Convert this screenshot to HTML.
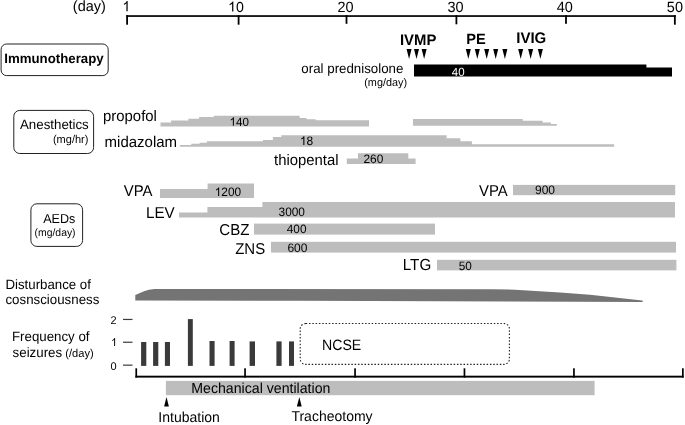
<!DOCTYPE html>
<html><head><meta charset="utf-8"><style>
html,body{margin:0;padding:0;background:#fff;}
svg{display:block;will-change:transform;}
text{font-family:"Liberation Sans",sans-serif;text-rendering:geometricPrecision;}
</style></head><body>
<svg width="685" height="425" viewBox="0 0 685 425">
<rect width="685" height="425" fill="#fff"/>
<rect x="126.2" y="15.2" width="549.6" height="1.7" fill="#000"/>
<rect x="126.20" y="15.2" width="1.8" height="9.5" fill="#000"/>
<rect x="237.70" y="15.2" width="1.8" height="9.5" fill="#000"/>
<rect x="345.60" y="15.2" width="1.8" height="8.6" fill="#000"/>
<rect x="455.50" y="15.2" width="1.8" height="9.1" fill="#000"/>
<rect x="565.10" y="15.2" width="1.8" height="8.6" fill="#000"/>
<rect x="673.95" y="15.2" width="1.8" height="9.5" fill="#000"/>
<text transform="translate(72.83,10.90) scale(1,1.025)" font-size="14.5" fill="#000">(day)</text>
<path d="M763 0h-180v1147q-65 -62 -170.5 -124t-189.5 -93v174q151 71 264 172t160 196h116v-1472z" transform="translate(122.37,11.30) scale(0.00693,-0.00693)" fill="#000"/>
<path d="M763 0h-180v1147q-65 -62 -170.5 -124t-189.5 -93v174q151 71 264 172t160 196h116v-1472z" transform="translate(228.07,11.60) scale(0.00693,-0.00693)" fill="#000"/><text transform="translate(235.97,11.60) scale(1,1.025)" font-size="14.2" fill="#000">0</text>
<text transform="translate(337.38,11.60) scale(1,1.025)" font-size="14.5" fill="#000">20</text>
<text transform="translate(447.42,11.60) scale(1,1.025)" font-size="14.5" fill="#000">30</text>
<text transform="translate(556.71,11.60) scale(1,1.025)" font-size="14.5" fill="#000">40</text>
<text transform="translate(666.82,11.60) scale(1,1.025)" font-size="14.5" fill="#000">50</text>
<rect x="1.1" y="44.0" width="107.1" height="31.6" rx="5.5" fill="none" stroke="#222" stroke-width="1"/>
<text transform="translate(4.27,63.00) scale(1,1.025)" font-size="13.25" font-weight="700" fill="#000">Immunotherapy</text>
<text transform="translate(399.96,44.70) scale(1,1.025)" font-size="14.9" font-weight="700" fill="#000">IVMP</text>
<text transform="translate(466.18,43.50) scale(1,1.025)" font-size="14.6" font-weight="700" fill="#000">PE</text>
<text transform="translate(516.25,43.10) scale(1,1.025)" font-size="15.0" font-weight="700" fill="#000">IVIG</text>
<polygon points="406.55,49.1 411.55,49.1 409.05,58.900000000000006" fill="#000"/>
<polygon points="414.00,49.1 419.00,49.1 416.50,58.900000000000006" fill="#000"/>
<polygon points="421.60,49.1 426.60,49.1 424.10,58.900000000000006" fill="#000"/>
<polygon points="465.80,49.1 470.80,49.1 468.30,58.900000000000006" fill="#000"/>
<polygon points="474.80,49.1 479.80,49.1 477.30,58.900000000000006" fill="#000"/>
<polygon points="484.20,49.1 489.20,49.1 486.70,58.900000000000006" fill="#000"/>
<polygon points="493.20,49.1 498.20,49.1 495.70,58.900000000000006" fill="#000"/>
<polygon points="502.40,49.1 507.40,49.1 504.90,58.900000000000006" fill="#000"/>
<polygon points="518.20,49.1 523.20,49.1 520.70,58.900000000000006" fill="#000"/>
<polygon points="528.10,49.1 533.10,49.1 530.60,58.900000000000006" fill="#000"/>
<polygon points="537.90,49.1 542.90,49.1 540.40,58.900000000000006" fill="#000"/>
<text transform="translate(301.37,72.70) scale(1,1.025)" font-size="13.3" fill="#000">oral prednisolone</text>
<text transform="translate(364.25,86.10) scale(1,1.025)" font-size="10.85" fill="#000">(mg/day)</text>
<polygon points="414,64.5 646.4,64.5 646.4,67.4 672,67.4 672,76.4 414,76.4" fill="#000"/>
<text transform="translate(451.77,75.60) scale(1,1.025)" font-size="11.5" fill="#fff">40</text>
<rect x="13.8" y="110.4" width="79.8" height="43.1" rx="6" fill="none" stroke="#222" stroke-width="1"/>
<text transform="translate(20.00,128.80) scale(1,1.025)" font-size="13.3" fill="#000">Anesthetics</text>
<text transform="translate(52.94,142.60) scale(1,1.025)" font-size="11" fill="#000">(mg/hr)</text>
<text transform="translate(103.06,121.40) scale(1,1.025)" font-size="14.9" fill="#000">propofol</text>
<text transform="translate(104.55,146.85) scale(1,1.025)" font-size="15.0" fill="#000">midazolam</text>
<text transform="translate(274.00,165.00) scale(1,1.025)" font-size="14.9" fill="#000">thiopental</text>
<polygon points="160.5,126.5 160.5,122.5 171.1,122.5 171.1,120.5 188.4,120.5 188.4,118.8 199.1,118.8 199.1,117.1 213.8,117.1 213.8,115.8 299.6,115.8 299.6,118.0 306.5,118.0 306.5,119.2 315.7,119.2 315.7,120.3 369.0,120.3 369.0,126.5" fill="#bdbdbd"/>
<polygon points="413.0,125.8 413.0,119.0 522.8,119.0 522.8,120.8 542.6,120.8 542.6,122.5 550.9,122.5 550.9,124.0 556.8,124.0 556.8,125.8" fill="#bdbdbd"/>
<polygon points="179.9,146.7 179.9,145.1 191.2,145.1 191.2,143.7 199.6,143.7 199.6,142.7 206.9,142.7 206.9,141.3 263.0,141.3 263.0,139.9 272.9,139.9 272.9,137.1 281.3,137.1 281.3,135.3 446.6,135.3 446.6,138.3 460.4,138.3 460.4,141.2 471.9,141.2 471.9,144.2 614.2,144.2 614.2,146.7" fill="#bdbdbd"/>
<polygon points="346.8,163.9 346.8,158.5 358.0,158.5 358.0,153.2 408.3,153.2 408.3,158.5 415.6,158.5 415.6,163.9" fill="#bdbdbd"/>
<path d="M763 0h-180v1147q-65 -62 -170.5 -124t-189.5 -93v174q151 71 264 172t160 196h116v-1472z" transform="translate(229.55,125.70) scale(0.00566,-0.00566)" fill="#000"/><text transform="translate(236.00,125.70) scale(1,1.025)" font-size="11.6" fill="#000">40</text>
<path d="M763 0h-180v1147q-65 -62 -170.5 -124t-189.5 -93v174q151 71 264 172t160 196h116v-1472z" transform="translate(299.91,145.00) scale(0.00586,-0.00586)" fill="#000"/><text transform="translate(306.58,145.00) scale(1,1.025)" font-size="12" fill="#000">8</text>
<text transform="translate(363.40,162.80) scale(1,1.025)" font-size="11.9" fill="#000">260</text>
<rect x="30.9" y="203.8" width="51.7" height="42.6" rx="6" fill="none" stroke="#222" stroke-width="1"/>
<text transform="translate(43.20,223.00) scale(1,1.025)" font-size="12.6" fill="#000">AEDs</text>
<text transform="translate(34.58,236.00) scale(1,1.025)" font-size="10.4" fill="#000">(mg/day)</text>
<polygon points="160.0,197.9 160.0,189.0 207.6,189.0 207.6,183.6 254.0,183.6 254.0,197.9" fill="#bdbdbd"/>
<polygon points="179.0,217.6 179.0,212.4 207.4,212.4 207.4,207.0 262.4,207.0 262.4,202.0 675.0,202.0 675.0,217.6" fill="#bdbdbd"/>
<rect x="254" y="223.6" width="181" height="11" fill="#bdbdbd"/>
<rect x="271" y="241.8" width="405" height="10.8" fill="#bdbdbd"/>
<rect x="513" y="184.9" width="162.2" height="10.3" fill="#bdbdbd"/>
<rect x="437" y="259.8" width="239.4" height="10.6" fill="#bdbdbd"/>
<text transform="translate(123.85,196.10) scale(1,1.05)" font-size="14.9" fill="#000">VPA</text>
<text transform="translate(145.98,217.90) scale(1,1.04)" font-size="15.2" fill="#000">LEV</text>
<text transform="translate(219.25,234.70) scale(1,1.05)" font-size="15.1" fill="#000">CBZ</text>
<text transform="translate(235.15,254.00) scale(1,1.05)" font-size="15" fill="#000">ZNS</text>
<text transform="translate(478.95,195.70) scale(1,1.06)" font-size="14.9" fill="#000">VPA</text>
<text transform="translate(402.78,270.40) scale(1,1.05)" font-size="15.2" fill="#000">LTG</text>
<path d="M763 0h-180v1147q-65 -62 -170.5 -124t-189.5 -93v174q151 71 264 172t160 196h116v-1472z" transform="translate(214.72,196.00) scale(0.00581,-0.00581)" fill="#000"/><text transform="translate(221.33,196.00) scale(1,1.025)" font-size="11.9" fill="#000">200</text>
<text transform="translate(278.52,216.00) scale(1,1.025)" font-size="11.9" fill="#000">3000</text>
<text transform="translate(286.76,233.00) scale(1,1.025)" font-size="11.8" fill="#000">400</text>
<text transform="translate(287.40,252.00) scale(1,1.025)" font-size="12" fill="#000">600</text>
<text transform="translate(535.00,194.40) scale(1,1.025)" font-size="12" fill="#000">900</text>
<text transform="translate(458.73,269.60) scale(1,1.025)" font-size="11.8" fill="#000">50</text>
<text transform="translate(5.44,288.70) scale(1,1.025)" font-size="13.25" fill="#000">Disturbance of</text>
<text transform="translate(5.47,304.00) scale(1,1.025)" font-size="13.3" fill="#000">cosnsciousness</text>
<path d="M135.3,300.6 L135.3,295.1 L144,291.2 Q148.5,289.5 154.6,289.0 L492,289.2 L515,289.7 L560,292.4 L590,294.8 L642.2,300.5 Q643.6,301.2 642.2,301.9 L300,300.85 Z" fill="#747474"/>
<text transform="translate(11.94,341.00) scale(1,1.025)" font-size="13.3" fill="#000">Frequency of</text>
<text transform="translate(12.60,356.95) scale(1,1.025)" font-size="13.3" fill="#000">seizures</text>
<text transform="translate(65.33,357.10) scale(1,1.025)" font-size="11.1" fill="#000">(/day)</text>
<text transform="translate(110.56,324.00) scale(1,1.025)" font-size="11" fill="#000">2</text>
<path d="M763 0h-180v1147q-65 -62 -170.5 -124t-189.5 -93v174q151 71 264 172t160 196h116v-1472z" transform="translate(111.01,346.00) scale(0.00537,-0.00537)" fill="#000"/>
<text transform="translate(110.56,370.00) scale(1,1.025)" font-size="11" fill="#000">0</text>
<rect x="123.0" y="318.85" width="9.5" height="1.2" fill="#3c3c3c"/>
<rect x="123.0" y="341.65" width="9.5" height="1.2" fill="#3c3c3c"/>
<rect x="123.0" y="364.55" width="9.5" height="1.2" fill="#3c3c3c"/>
<rect x="141.1" y="342" width="5.2" height="23.9" fill="#3a3a3a"/>
<rect x="153.1" y="342" width="5.2" height="23.9" fill="#3a3a3a"/>
<rect x="164.9" y="342" width="5.1" height="23.9" fill="#3a3a3a"/>
<rect x="187.9" y="319.1" width="4.9" height="46.8" fill="#3a3a3a"/>
<rect x="209.5" y="341" width="5.1" height="24.9" fill="#3a3a3a"/>
<rect x="229.6" y="341" width="5.0" height="24.9" fill="#3a3a3a"/>
<rect x="249.6" y="341.4" width="5.4" height="24.5" fill="#3a3a3a"/>
<rect x="276.4" y="341.4" width="5.2" height="24.5" fill="#3a3a3a"/>
<rect x="289" y="341.4" width="5.0" height="24.5" fill="#3a3a3a"/>
<rect x="300.2" y="323.5" width="209.2" height="40.9" rx="5.5" fill="none" stroke="#222" stroke-width="1.1" stroke-dasharray="1.5 1.8"/>
<text transform="translate(321.97,350.00) scale(1,1.06)" font-size="14.15" fill="#000">NCSE</text>
<rect x="135.4" y="375.7" width="548.2" height="1.9" fill="#000"/>
<rect x="135.40" y="368.3" width="1.7" height="9.3" fill="#000"/>
<rect x="244.20" y="368.3" width="1.7" height="9.3" fill="#000"/>
<rect x="354.20" y="368.3" width="1.7" height="9.3" fill="#000"/>
<rect x="463.60" y="368.3" width="1.7" height="9.3" fill="#000"/>
<rect x="573.10" y="368.3" width="1.7" height="9.3" fill="#000"/>
<rect x="682.00" y="368.3" width="1.7" height="9.3" fill="#000"/>
<rect x="165.9" y="380.9" width="428.7" height="14.3" fill="#bdbdbd"/>
<text transform="translate(191.27,392.80) scale(1,1.025)" font-size="14.15" fill="#000">Mechanical ventilation</text>
<polygon points="166.50,397.1 168.90,406.6 164.10,406.6" fill="#000"/>
<polygon points="299.30,397.0 301.70,406.5 296.90,406.5" fill="#000"/>
<text transform="translate(158.34,421.75) scale(1,1.025)" font-size="14" fill="#000">Intubation</text>
<text transform="translate(291.42,420.90) scale(1,1.025)" font-size="14.0" fill="#000">Tracheotomy</text>
</svg>
</body></html>
